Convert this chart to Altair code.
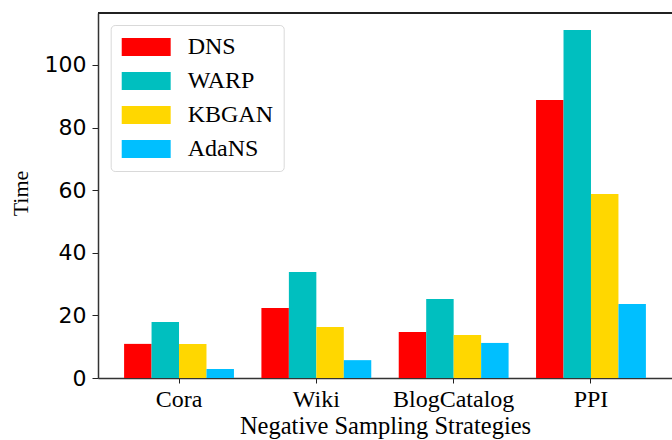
import altair as alt
import pandas as pd

# Training time of each negative sampling strategy per dataset
datasets = ["Cora", "Wiki", "BlogCatalog", "PPI"]
methods = ["DNS", "WARP", "KBGAN", "AdaNS"]
dns = [10.9, 22.4, 14.7, 88.8]
warp = [17.9, 33.9, 25.2, 111.2]
kbgan = [10.9, 16.3, 13.7, 58.8]
adans = [2.9, 5.7, 11.2, 23.6]
colors = ["#ff0000", "#00bfbf", "#ffd700", "#00bfff"]
y_ticks = [0, 20, 40, 60, 80, 100]
y_max = 116.6

rows = []
for method, series in zip(methods, [dns, warp, kbgan, adans]):
    for ds, v in zip(datasets, series):
        rows.append({"dataset": ds, "method": method, "time": v})
df = pd.DataFrame(rows)

W, H = 574, 365
SERIF = "Liberation Serif"
SANS = "DejaVu Sans"

# wide flat rectangle used as legend swatch
swatch = "M-1.22,-1 L4.22,-1 L4.22,1 L-1.22,1 Z"

bars = alt.Chart(df).mark_bar().encode(
    x=alt.X(
        "dataset:N",
        sort=datasets,
        scale=alt.Scale(paddingInner=0.2, paddingOuter=0.19),
        axis=alt.Axis(
            title="Negative Sampling Strategies",
            labelAngle=0,
            labelFont=SERIF,
            labelFontSize=24,
            labelColor="black",
            labelPadding=4,
            titleFont=SERIF,
            titleFontSize=24.5,
            titleFontWeight="normal",
            titleColor="black",
            titlePadding=3,
            tickSize=5,
            tickColor="#222",
            domainColor="#333",
            domainWidth=1.5,
        ),
    ),
    xOffset=alt.XOffset(
        "method:N", sort=methods, scale=alt.Scale(paddingInner=0, paddingOuter=0)
    ),
    y=alt.Y(
        "time:Q",
        scale=alt.Scale(domain=[0, y_max], nice=False),
        axis=alt.Axis(
            title="Time",
            values=y_ticks,
            grid=False,
            labelFont=SANS,
            labelFontSize=22,
            labelColor="black",
            labelPadding=6,
            tickSize=6,
            tickColor="#222",
            domainColor="#333",
            domainWidth=1.5,
            titleFont=SERIF,
            titleFontSize=22,
            titleFontWeight="normal",
            titleColor="black",
            titleAngle=270,
            titleAlign="center",
            titleBaseline="alphabetic",
            titleX=-71,
            titleY=180,
        ),
    ),
    color=alt.Color(
        "method:N",
        sort=methods,
        scale=alt.Scale(domain=methods, range=colors),
        legend=alt.Legend(
            title=None,
            orient="none",
            legendX=12.7,
            legendY=12,
            symbolType=swatch,
            symbolSize=324,
            symbolStrokeWidth=0,
            symbolOpacity=1,
            labelFont=SERIF,
            labelFontSize=24,
            labelColor="black",
            labelOffset=43,
            rowPadding=10,
            padding=10,
            fillColor="white",
            strokeColor="#d9d9d9",
            cornerRadius=4,
        ),
    ),
)

top_line = alt.Chart(df).mark_rule(color="#222", strokeWidth=1.5).encode(
    x=alt.value(0), x2=alt.value(W), y=alt.value(0)
)

chart = (
    alt.layer(bars, top_line)
    .properties(
        width=W,
        height=H,
        autosize=alt.AutoSizeParams(type="none"),
        padding={"left": 98, "top": 13, "right": 0, "bottom": 62},
    )
    .configure_view(stroke=None)
    .configure(background="white")
)

chart.save("out.html", embed_options={"renderer": "svg", "actions": False})
